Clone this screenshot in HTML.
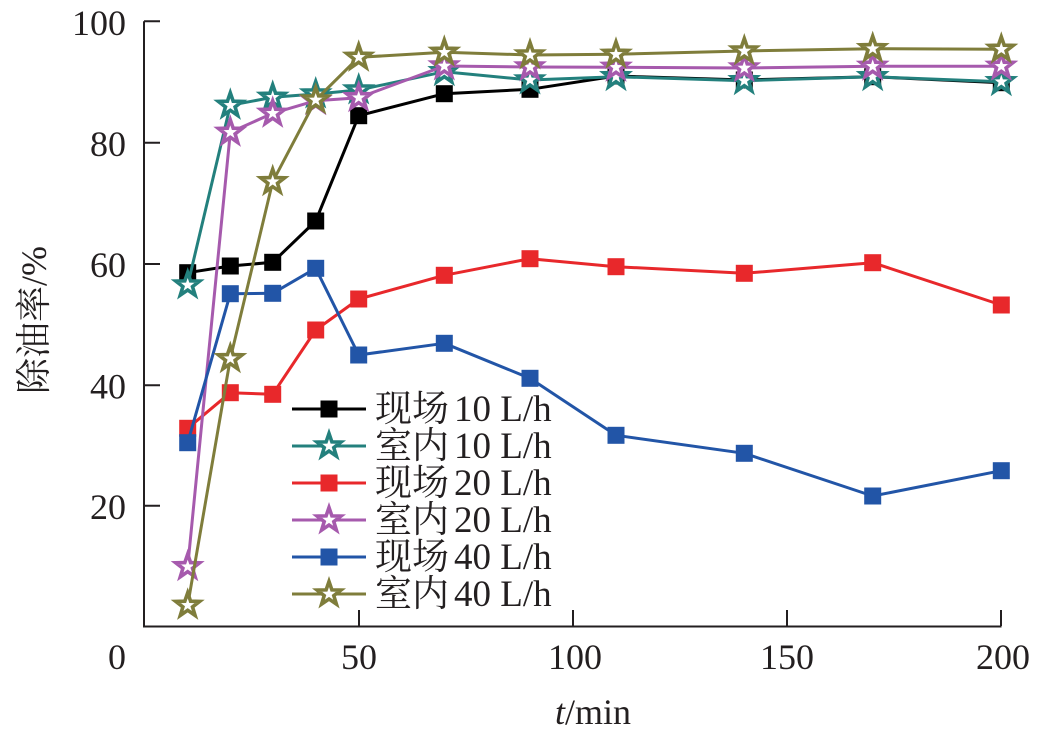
<!DOCTYPE html>
<html><head><meta charset="utf-8"><style>
html,body{margin:0;padding:0;background:#fff;}
svg{display:block;}
text{font-family:"Liberation Serif","Noto Serif CJK SC",serif;fill:#231f20;}
</style></head><body>
<svg width="1046" height="732" viewBox="0 0 1046 732" xmlns="http://www.w3.org/2000/svg">
<defs>
<polygon id="st" points="0,-12.5 2.9,-4.1 11.9,-3.9 4.8,1.6 7.4,10.1 0,5 -7.4,10.1 -4.8,1.6 -11.9,-3.9 -2.9,-4.1"/>
<rect id="sq" x="-8.5" y="-8.5" width="17" height="17"/>
</defs>
<!-- axes -->
<g stroke="#231f20" stroke-width="2" fill="none">
<path d="M144,21.3 V626.5 H1001.5"/>
<path d="M144,21.3 H160 M144,142.7 H160 M144,264 H160 M144,385.3 H160 M144,505.7 H160"/>
<path d="M359,626 V610 M573,626 V610 M787,626 V610 M1001,626 V610"/>
</g>
<g font-size="36" text-anchor="end">
<text x="126" y="35">100</text>
<text x="126" y="156">80</text>
<text x="126" y="277">60</text>
<text x="126" y="398.5">40</text>
<text x="126" y="519">20</text>
</g>
<g font-size="36" text-anchor="middle">
<text x="117" y="669">0</text>
<text x="359" y="669">50</text>
<text x="575" y="669">100</text>
<text x="787" y="669">150</text>
<text x="1003" y="669">200</text>
<text x="593" y="724"><tspan font-style="italic">t</tspan>/min</text>
</g>
<text font-size="36" text-anchor="middle" transform="translate(46,320) rotate(-90)">除油率/%</text>

<!-- series -->
<g fill="none" stroke-width="3" stroke-linejoin="round">
<polyline stroke="#000" points="187.7,272.7 230.3,266 272.7,262.3 315.7,221 358.7,115.7 444.3,93.7 530,89.3 616,76 744.3,80 872.7,76.7 1001.3,82.7"/>
</g>
<g fill="#000">
<use href="#sq" x="187.7" y="272.7"/><use href="#sq" x="230.3" y="266"/><use href="#sq" x="272.7" y="262.3"/><use href="#sq" x="315.7" y="221"/><use href="#sq" x="358.7" y="115.7"/><use href="#sq" x="444.3" y="93.7"/><use href="#sq" x="530" y="89.3"/><use href="#sq" x="616" y="76"/><use href="#sq" x="744.3" y="80"/><use href="#sq" x="872.7" y="76.7"/><use href="#sq" x="1001.3" y="82.7"/>
</g>

<polyline fill="none" stroke="#23807d" stroke-width="3" stroke-linejoin="round" points="187.7,285 230.3,105.3 272.7,97.3 315.7,94 358.7,90 444.3,71.7 530,80 616,76.7 744.3,80.7 872.7,76.7 1001.3,81.7"/>
<g fill="#fff" stroke="#23807d" stroke-width="3.6">
<use href="#st" x="187.7" y="285"/><use href="#st" x="230.3" y="105.3"/><use href="#st" x="272.7" y="97.3"/><use href="#st" x="315.7" y="94"/><use href="#st" x="358.7" y="90"/><use href="#st" x="444.3" y="71.7"/><use href="#st" x="530" y="80"/><use href="#st" x="616" y="76.7"/><use href="#st" x="744.3" y="80.7"/><use href="#st" x="872.7" y="76.7"/><use href="#st" x="1001.3" y="81.7"/>
</g>

<polyline fill="none" stroke="#e8282b" stroke-width="3" stroke-linejoin="round" points="187.7,428.3 230.3,392.7 272.7,394.3 315.7,330 358.7,299 444.3,275.3 530,258.7 616,266.7 744.3,273.3 872.7,262.7 1001.3,305"/>
<g fill="#e8282b">
<use href="#sq" x="187.7" y="428.3"/><use href="#sq" x="230.3" y="392.7"/><use href="#sq" x="272.7" y="394.3"/><use href="#sq" x="315.7" y="330"/><use href="#sq" x="358.7" y="299"/><use href="#sq" x="444.3" y="275.3"/><use href="#sq" x="530" y="258.7"/><use href="#sq" x="616" y="266.7"/><use href="#sq" x="744.3" y="273.3"/><use href="#sq" x="872.7" y="262.7"/><use href="#sq" x="1001.3" y="305"/>
</g>

<polyline fill="none" stroke="#a65aad" stroke-width="3" stroke-linejoin="round" points="187.7,566.7 230.3,132.3 272.7,113.3 315.7,100.7 358.7,97.7 444.3,66 530,67 616,67.3 744.3,68 872.7,66.3 1001.3,66.3"/>
<g fill="#fff" stroke="#a65aad" stroke-width="3.6">
<use href="#st" x="187.7" y="566.7"/><use href="#st" x="230.3" y="132.3"/><use href="#st" x="272.7" y="113.3"/><use href="#st" x="315.7" y="100.7"/><use href="#st" x="358.7" y="97.7"/><use href="#st" x="444.3" y="66"/><use href="#st" x="530" y="67"/><use href="#st" x="616" y="67.3"/><use href="#st" x="744.3" y="68"/><use href="#st" x="872.7" y="66.3"/><use href="#st" x="1001.3" y="66.3"/>
</g>

<polyline fill="none" stroke="#2255a7" stroke-width="3" stroke-linejoin="round" points="187.7,442.7 230.3,293.7 272.7,293.3 315.7,268.3 358.7,355 444.3,343.3 530,378.3 616,435.3 744.3,453.3 872.7,496 1001.3,470.7"/>
<g fill="#2255a7">
<use href="#sq" x="187.7" y="442.7"/><use href="#sq" x="230.3" y="293.7"/><use href="#sq" x="272.7" y="293.3"/><use href="#sq" x="315.7" y="268.3"/><use href="#sq" x="358.7" y="355"/><use href="#sq" x="444.3" y="343.3"/><use href="#sq" x="530" y="378.3"/><use href="#sq" x="616" y="435.3"/><use href="#sq" x="744.3" y="453.3"/><use href="#sq" x="872.7" y="496"/><use href="#sq" x="1001.3" y="470.7"/>
</g>

<polyline fill="none" stroke="#7f7d3b" stroke-width="3" stroke-linejoin="round" points="187.7,605.3 230.3,358.7 272.7,181.7 315.7,100 358.7,57.3 444.3,52.3 530,55 616,54.3 744.3,51 872.7,48.7 1001.3,49.3"/>
<g fill="#fff" stroke="#7f7d3b" stroke-width="3.6">
<use href="#st" x="187.7" y="605.3"/><use href="#st" x="230.3" y="358.7"/><use href="#st" x="272.7" y="181.7"/><use href="#st" x="315.7" y="100"/><use href="#st" x="358.7" y="57.3"/><use href="#st" x="444.3" y="52.3"/><use href="#st" x="530" y="55"/><use href="#st" x="616" y="54.3"/><use href="#st" x="744.3" y="51"/><use href="#st" x="872.7" y="48.7"/><use href="#st" x="1001.3" y="49.3"/>
</g>

<!-- legend -->
<g stroke-width="3">
<line x1="292" y1="409" x2="366" y2="409" stroke="#000"/>
<use href="#sq" x="329" y="409" fill="#000" stroke="none"/>
<line x1="292" y1="446" x2="366" y2="446" stroke="#23807d"/>
<use href="#st" x="329" y="446" fill="#fff" stroke="#23807d" stroke-width="3.6"/>
<line x1="292" y1="483" x2="366" y2="483" stroke="#e8282b"/>
<use href="#sq" x="329" y="483" fill="#e8282b" stroke="none"/>
<line x1="292" y1="520" x2="366" y2="520" stroke="#a65aad"/>
<use href="#st" x="329" y="520" fill="#fff" stroke="#a65aad" stroke-width="3.6"/>
<line x1="292" y1="557" x2="366" y2="557" stroke="#2255a7"/>
<use href="#sq" x="329" y="557" fill="#2255a7" stroke="none"/>
<line x1="292" y1="594" x2="366" y2="594" stroke="#7f7d3b"/>
<use href="#st" x="329" y="594" fill="#fff" stroke="#7f7d3b" stroke-width="3.6"/>
</g>
<g font-size="37">
<text x="375" y="421">现场<tspan dx="5">10 L/h</tspan></text>
<text x="375" y="458">室内<tspan dx="5">10 L/h</tspan></text>
<text x="375" y="495">现场<tspan dx="5">20 L/h</tspan></text>
<text x="375" y="532">室内<tspan dx="5">20 L/h</tspan></text>
<text x="375" y="569">现场<tspan dx="5">40 L/h</tspan></text>
<text x="375" y="606">室内<tspan dx="5">40 L/h</tspan></text>
</g>
</svg>
</body></html>
